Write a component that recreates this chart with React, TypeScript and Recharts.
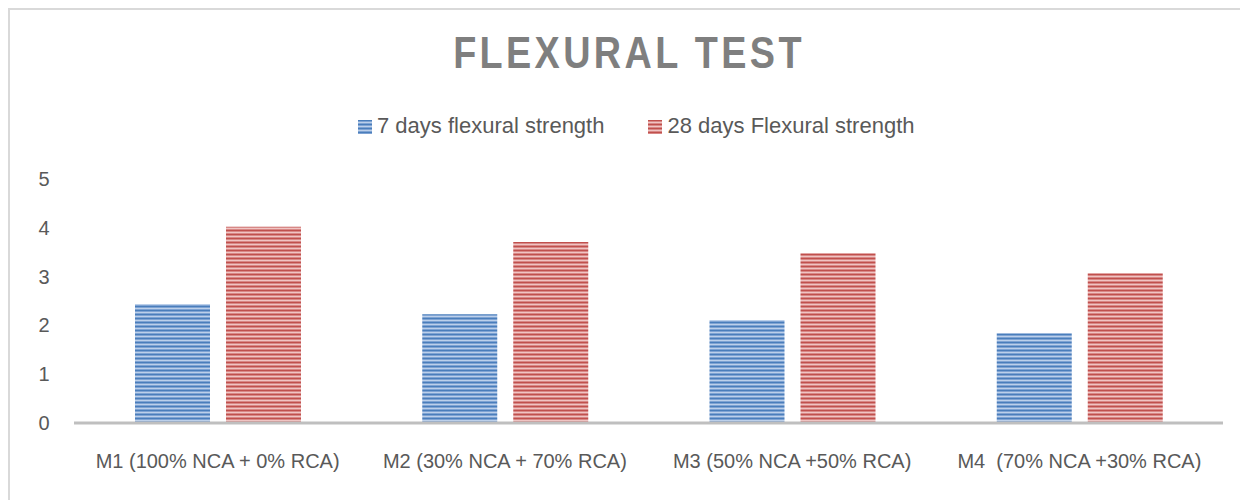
import React from 'react';
import { BarChart, Bar, XAxis, YAxis, Legend } from 'recharts';

const categories = [
    'M1 (100% NCA + 0% RCA)',
    'M2 (30% NCA + 70% RCA)',
    'M3 (50% NCA +50% RCA)',
    'M4  (70% NCA +30% RCA)',
];
const sevenDays = [2.44, 2.23, 2.11, 1.84];
const twentyEightDays = [4.02, 3.71, 3.48, 3.07];
const yTicks = [0, 1, 2, 3, 4, 5];

const seriesNames = ['7 days flexural strength', '28 days Flexural strength'];

const data = categories.map((name, i) => ({
    name,
    d7: sevenDays[i],
    d28: twentyEightDays[i],
}));

const FONT = '"Liberation Sans", Arial, sans-serif';
const TEXT = '#595959';

const StripeDefs = () => (
    <defs>
        <pattern id="stripe-blue" patternUnits="userSpaceOnUse" width="8" height="4">
            <rect width="8" height="4" fill="#7fa3d3" />
            <rect y="0" width="8" height="1" fill="#4a7ebb" />
            <rect y="2" width="8" height="1" fill="#bcd0ea" />
        </pattern>
        <pattern id="stripe-red" patternUnits="userSpaceOnUse" width="8" height="4">
            <rect width="8" height="4" fill="#d88886" />
            <rect y="0" width="8" height="1" fill="#c0504d" />
            <rect y="2" width="8" height="1" fill="#f0c4c3" />
        </pattern>
    </defs>
);

const LegendContent = () => (
    <div style={{ display: 'flex', paddingLeft: 348, fontFamily: FONT, fontSize: 22, lineHeight: '24px', color: TEXT }}>
        {seriesNames.map((s, i) => (
            <div key={s} style={{ display: 'flex', alignItems: 'flex-start', marginRight: i === 0 ? 44 : 0 }}>
                <svg width={14} height={14} style={{ marginTop: 6, marginRight: 5 }}>
                    <rect width={14} height={14} fill={i === 0 ? 'url(#stripe-blue)' : 'url(#stripe-red)'} />
                </svg>
                <span>{s}</span>
            </div>
        ))}
    </div>
);

const XTick = (props: any) => {
    const { x, payload } = props;
    return (
        <text x={x} y={458} textAnchor="middle" fill={TEXT} fontFamily={FONT} fontSize={20} style={{ whiteSpace: 'pre' }}>
            {payload.value}
        </text>
    );
};

const YTick = (props: any) => {
    const { y, payload } = props;
    return (
        <text x={34} y={y} dy={7} textAnchor="middle" fill={TEXT} fontFamily={FONT} fontSize={20}>
            {payload.value}
        </text>
    );
};

export default function App() {
    return (
        <div style={{ position: 'relative', width: 1238, height: 490, borderTop: '2px solid #d9d9d9', borderLeft: '2px solid #d9d9d9', background: '#fff' }}>
            <svg width={0} height={0} style={{ position: 'absolute' }}>
                <StripeDefs />
            </svg>
            <div style={{ position: 'absolute', top: 20, left: 0, width: 1238, textAlign: 'center', fontFamily: FONT, fontWeight: 'bold', fontSize: 45, lineHeight: '45px', letterSpacing: 4, color: '#7f7f7f', transform: 'scaleX(0.84)', transformOrigin: '619px 0' }}>
                FLEXURAL TEST
            </div>
            <BarChart
                width={1238}
                height={490}
                data={data}
                margin={{ top: 169, right: 25, left: 0, bottom: 27 }}
                barSize={75}
                barGap={16}
            >
                <XAxis
                    dataKey="name"
                    height={50}
                    axisLine={{ stroke: '#bfbfbf', strokeWidth: 3 }}
                    tickLine={false}
                    tick={<XTick />}
                    interval={0}
                />
                <YAxis
                    width={64}
                    domain={[0, 5]}
                    ticks={yTicks}
                    axisLine={false}
                    tickLine={false}
                    tick={<YTick />}
                />
                <Legend
                    layout="horizontal"
                    verticalAlign="middle"
                    content={<LegendContent />}
                    wrapperStyle={{ top: 104, left: 0, width: 1238 }}
                />
                <Bar dataKey="d7" name={seriesNames[0]} fill="url(#stripe-blue)" isAnimationActive={false} />
                <Bar dataKey="d28" name={seriesNames[1]} fill="url(#stripe-red)" isAnimationActive={false} />
            </BarChart>
        </div>
    );
}
